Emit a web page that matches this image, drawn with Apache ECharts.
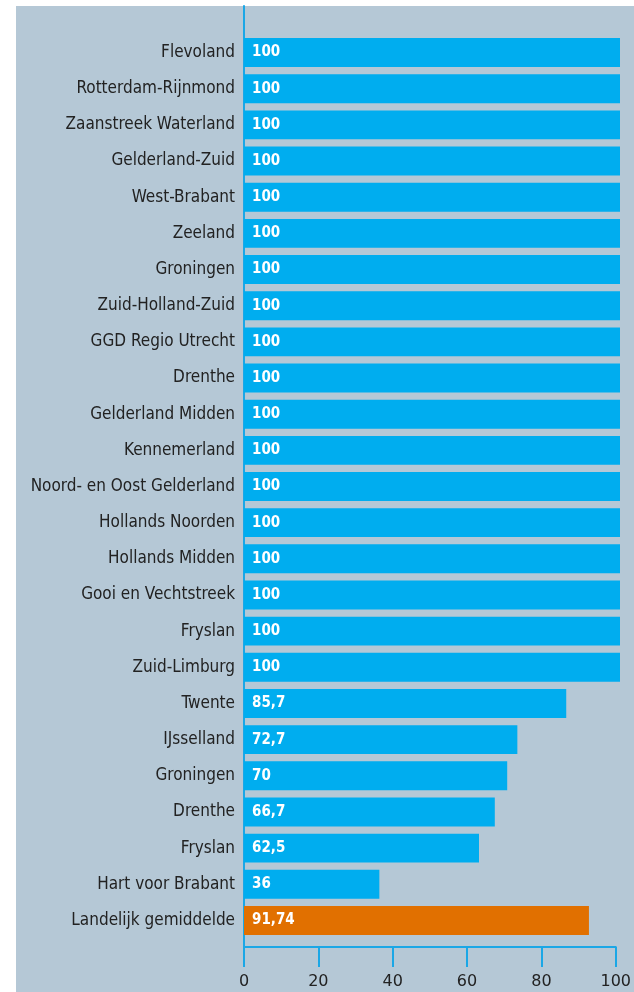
<!DOCTYPE html>
<html>
<head>
<meta charset="utf-8">
<script src="https://cdn.jsdelivr.net/npm/echarts@6/dist/echarts.min.js"></script>
<style>
  html, body { margin: 0; padding: 0; background: #ffffff; }
  #chart { width: 634px; height: 992px; }
</style>
</head>
<body>
<div id="chart"></div>
<script>
// regio's (van boven naar beneden)
const regions = [
  'Flevoland', 'Rotterdam-Rijnmond', 'Zaanstreek Waterland', 'Gelderland-Zuid',
  'West-Brabant', 'Zeeland', 'Groningen', 'Zuid-Holland-Zuid', 'GGD Regio Utrecht',
  'Drenthe', 'Gelderland Midden', 'Kennemerland', 'Noord- en Oost Gelderland',
  'Hollands Noorden', 'Hollands Midden', 'Gooi en Vechtstreek', 'Fryslan',
  'Zuid-Limburg', 'Twente', 'IJsselland', 'Groningen', 'Drenthe', 'Fryslan',
  'Hart voor Brabant', 'Landelijk gemiddelde'
];
const percentages = [
  100, 100, 100, 100, 100, 100, 100, 100, 100, 100, 100, 100, 100, 100, 100, 100,
  100, 100, 85.7, 72.7, 70, 66.7, 62.5, 36, 91.74
];
const averageIndex = 24;
const xTicks = [0, 20, 40, 60, 80, 100];

const BLUE = '#00adef';
const ORANGE = '#e17000';
const AXIS = '#1ba7e6';
const FONT = '"DejaVu Sans Condensed", "DejaVu Sans", sans-serif';

const chart = echarts.init(document.getElementById('chart'));

const option = {
  backgroundColor: '#ffffff',
  animation: false,
  grid: [
    // bars
    { left: 244, right: 14, top: 34.5, height: 904 },
    // axis frame
    { left: 244, right: 14, top: 6, height: 941 },
    // panel background
    { left: 16, right: 0, top: 6, bottom: 0, show: true, backgroundColor: '#b5c8d6', borderWidth: 0, z: -1 }
  ],
  xAxis: [
    { gridIndex: 0, type: 'value', min: 0, max: xTicks[xTicks.length - 1], interval: 20, show: false },
    {
      gridIndex: 1, type: 'value', min: xTicks[0], max: xTicks[xTicks.length - 1], interval: 20,
      axisLine: { show: true, lineStyle: { color: AXIS, width: 2 } },
      axisTick: { show: true, length: 20, lineStyle: { color: AXIS, width: 2 } },
      splitLine: { show: false },
      axisLabel: { color: '#222', fontSize: 16, fontFamily: '"DejaVu Sans", sans-serif', margin: 27 }
    },
    { gridIndex: 2, type: 'value', show: false }
  ],
  yAxis: [
    {
      gridIndex: 0, type: 'category', inverse: true, data: regions,
      axisLine: { show: false }, axisTick: { show: false },
      axisLabel: { color: '#222', fontSize: 17, fontFamily: FONT, margin: 9 }
    },
    {
      gridIndex: 1, type: 'value', min: 0, max: 1,
      axisLine: { show: true, lineStyle: { color: AXIS, width: 2 } },
      axisTick: { show: false }, axisLabel: { show: false }, splitLine: { show: false }
    },
    { gridIndex: 2, type: 'value', show: false }
  ],
  series: [
    {
      type: 'bar',
      xAxisIndex: 0,
      yAxisIndex: 0,
      barCategoryGap: '20%',
      data: percentages.map((v, i) => ({
        value: v,
        itemStyle: { color: i === averageIndex ? ORANGE : BLUE }
      })),
      label: {
        show: true,
        position: 'insideLeft',
        distance: 8,
        color: '#ffffff',
        fontWeight: 'bold',
        fontSize: 15,
        fontFamily: FONT,
        formatter: p => String(p.value).replace('.', ',')
      }
    }
  ]
};

chart.setOption(option);
</script>
</body>
</html>
